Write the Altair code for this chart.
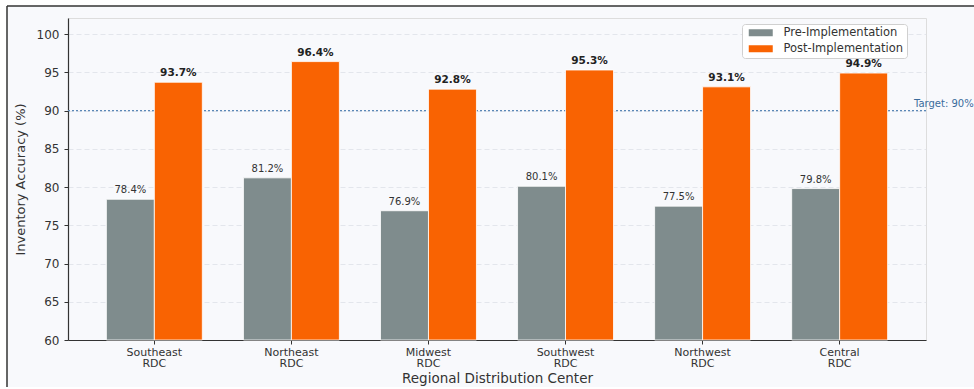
import altair as alt
import pandas as pd

regions = ["Southeast RDC", "Northeast RDC", "Midwest RDC", "Southwest RDC", "Northwest RDC", "Central RDC"]
pre_values = [78.4, 81.2, 76.9, 80.1, 77.5, 79.8]
post_values = [93.7, 96.4, 92.8, 95.3, 93.1, 94.9]
phases = ["Pre-Implementation", "Post-Implementation"]
colors = ["#7f8c8d", "#f96302"]
y_ticks = [60, 65, 70, 75, 80, 85, 90, 95, 100]
y_min = 60
target_value = 90
target_label = "Target: 90%"

rows = []
for r, a, b in zip(regions, pre_values, post_values):
    rows.append({"region": r, "phase": phases[0], "value": a, "label": f"{a:.1f}%"})
    rows.append({"region": r, "phase": phases[1], "value": b, "label": f"{b:.1f}%"})
df = pd.DataFrame(rows)

FONT = "DejaVu Sans"
W, H = 858, 322
BG = "#f8f9fc"

deco = pd.DataFrame({"k": [0]})
white_top = alt.Chart(deco).mark_rect(fill="white", clip=False).encode(
    x=alt.value(-68), x2=alt.value(906), y=alt.value(-18), y2=alt.value(-12)
)
white_left = alt.Chart(deco).mark_rect(fill="white", clip=False).encode(
    x=alt.value(-68), x2=alt.value(-61), y=alt.value(-18), y2=alt.value(369)
)
top_line = alt.Chart(deco).mark_rule(color="#333333", strokeWidth=1.5, clip=False).encode(
    x=alt.value(-61), x2=alt.value(906), y=alt.value(-12)
)
left_line = alt.Chart(deco).mark_rule(color="#333333", strokeWidth=1.5, clip=False).encode(
    x=alt.value(-61), y=alt.value(-12), y2=alt.value(369)
)

yscale = alt.Scale(domain=[60, 102.1], nice=False, zero=False)
xenc = alt.X(
    "region:N",
    sort=regions,
    scale=alt.Scale(paddingInner=0.3, paddingOuter=0.28),
    axis=alt.Axis(
        title="Regional Distribution Center",
        labelExpr="split(datum.label, ' ')",
        labelAngle=0,
        labelFontSize=11,
        labelColor="#333333",
        labelPadding=2,
        labelLineHeight=11.5,
        titleFontSize=13.5,
        titleFontWeight="normal",
        titleColor="#333333",
        titlePadding=3,
        tickSize=4,
        tickColor="#333333",
        domainColor="#333333",
        domainWidth=1.2,
        grid=False,
    ),
)
xoff = alt.XOffset("phase:N", sort=phases)

base = alt.Chart(df)

bars = base.mark_bar(stroke="white", strokeWidth=0.8).encode(
    x=xenc,
    xOffset=xoff,
    y=alt.Y(
        "value:Q",
        scale=yscale,
        axis=alt.Axis(
            title="Inventory Accuracy (%)",
            values=y_ticks,
            labelFontSize=12,
            labelColor="#333333",
            labelPadding=5,
            titleFontSize=13,
            titleFontWeight="normal",
            titleColor="#333333",
            titlePadding=9,
            tickSize=4,
            tickColor="#333333",
            domainColor="#333333",
            domainWidth=1.2,
            grid=True,
            gridColor="#dde1e7",
            gridDash=[5, 3],
            gridWidth=0.8,
        ),
    ),
    y2=alt.datum(y_min),
    color=alt.Color(
        "phase:N",
        sort=phases,
        scale=alt.Scale(domain=phases, range=colors),
        legend=alt.Legend(
            title=None,
            orient="none",
            legendX=674,
            legendY=6,
            fillColor="white",
            strokeColor="#d0d0d0",
            padding=3,
            cornerRadius=3,
            symbolType="M-0.4,-0.7H4.4V0.7H-0.4Z",
            symbolSize=100,
            symbolStrokeWidth=0,
            labelFontSize=11.5,
            labelColor="#333333",
            labelOffset=27,
            rowPadding=3,
        ),
    ),
)

pre_text = base.transform_filter(alt.datum.phase == phases[0]).mark_text(
    baseline="bottom", dy=-4, fontSize=10, color="#333333", font=FONT
).encode(x=xenc, xOffset=xoff, y=alt.Y("value:Q", scale=yscale), text="label:N")

post_text = base.transform_filter(alt.datum.phase == phases[1]).mark_text(
    baseline="bottom", dy=-4, fontSize=10.5, fontWeight="bold", color="#222222", font=FONT
).encode(x=xenc, xOffset=xoff, y=alt.Y("value:Q", scale=yscale), text="label:N")

tdf = pd.DataFrame({"value": [target_value], "label": [target_label]})
target_rule = alt.Chart(tdf).mark_rule(color="#5a87b6", strokeWidth=1.2, strokeDash=[2, 2]).encode(
    y=alt.Y("value:Q", scale=yscale)
)
target_text = alt.Chart(tdf).mark_text(
    align="left", baseline="bottom", dy=-2, fontSize=10, color="#3a6c9c", font=FONT, clip=False
).encode(x=alt.value(846), y=alt.Y("value:Q", scale=yscale), text="label:N")

chart = alt.layer(
    white_top, white_left, top_line, left_line, target_rule, bars, pre_text, post_text, target_text
).properties(
    width=W,
    height=H,
    background=BG,
    padding={"left": 68, "top": 18, "right": 48, "bottom": 47},
    autosize=alt.AutoSizeParams(type="none"),
).configure_view(stroke=None, fill=None).configure(font=FONT)

chart.save("out.html", embed_options={"renderer": "svg", "actions": False})
